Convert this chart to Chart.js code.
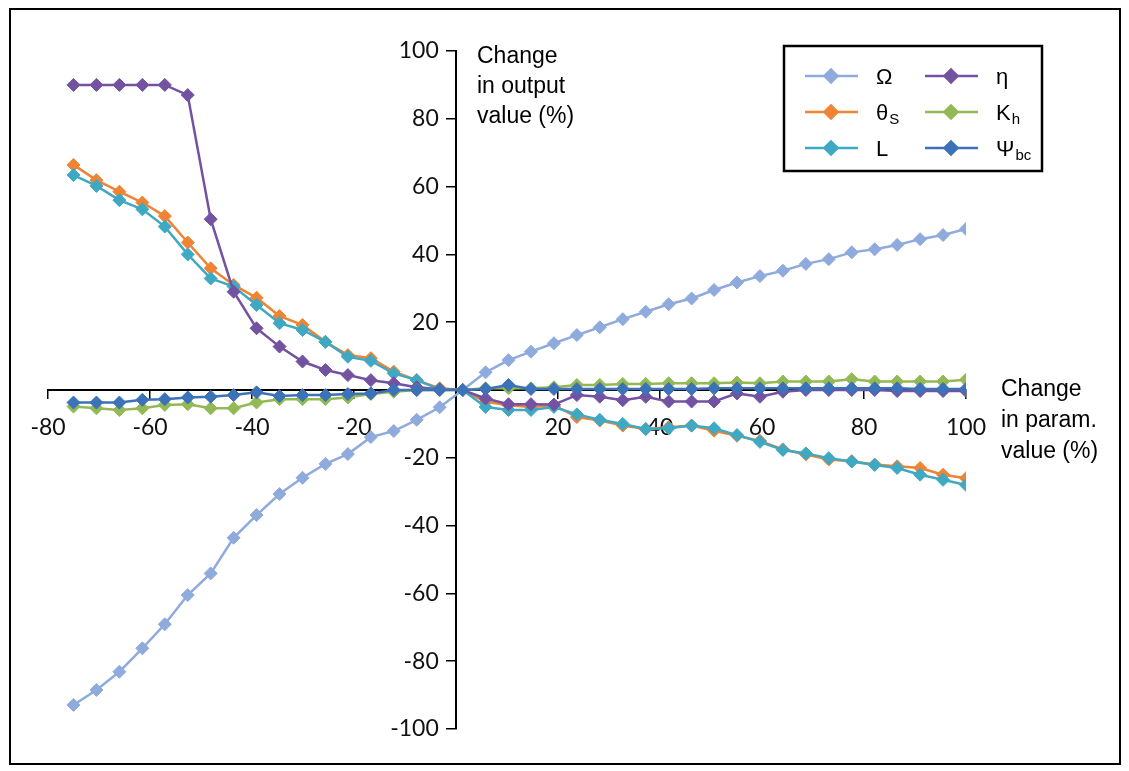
<!DOCTYPE html>
<html lang="en">

<head>
    <meta charset="UTF-8">
    <script src="https://cdn.jsdelivr.net/npm/chart.js"></script>
    <title>Sensitivity</title>
    <style>
        body { margin: 0; background: #fff; }
        .moldura {
            position: absolute;
            left: 9px; top: 8px;
            width: 1108px; height: 753px;
            border: 2px solid #000;
        }
        .grafico { position: absolute; left: 0; top: 0; width: 1129px; height: 771px; }
    </style>
</head>

<body>
    <div class="moldura"></div>
    <div class="grafico">
        <canvas id="myChart" width="1129" height="771"></canvas>
    </div>
</body>

</html>
<script>
    // change in parameter value (%)
    const paramChange = [-75, -70.5, -66.0, -61.5, -57.1, -52.6, -48.1, -43.6, -39.1, -34.6,
        -30.1, -25.6, -21.2, -16.7, -12.2, -7.7, -3.2, 1.3, 5.8, 10.3,
        14.7, 19.2, 23.7, 28.2, 32.7, 37.2, 41.7, 46.2, 50.6, 55.1,
        59.6, 64.1, 68.6, 73.1, 77.6, 82.1, 86.5, 91.0, 95.5, 100];

    // change in output value (%) for each parameter
    const omega = [-92.9, -88.5, -83.1, -76.2, -69.1, -60.5, -54.1, -43.6, -36.9, -30.7,
        -25.9, -21.8, -18.9, -13.9, -12.1, -8.8, -5.1, 0, 5.2, 8.8,
        11.3, 13.8, 16.2, 18.5, 20.9, 23.1, 25.3, 27.0, 29.5, 31.7,
        33.6, 35.2, 37.2, 38.6, 40.6, 41.5, 42.8, 44.5, 45.7, 47.5];
    const eta = [90, 90, 90, 90, 90, 87.0, 50.4, 29.0, 18.2, 12.8,
        8.4, 5.9, 4.4, 2.9, 2.0, 0.8, 0.2, 0, -2.5, -4.2,
        -4.2, -4.3, -1.5, -2.0, -3.0, -2.0, -3.4, -3.4, -3.4, -1.0,
        -2.0, -0.5, 0, 0, 0, 0, -0.3, -0.3, -0.3, -0.3];
    const thetaS = [66.4, 61.9, 58.5, 55.3, 51.3, 43.5, 35.9, 31.0, 27.2, 21.8,
        19.2, 14.2, 10.3, 9.4, 5.4, 2.9, 0.5, 0, -3.5, -4.5,
        -5.0, -4.5, -8.0, -9.0, -10.5, -11.5, -11.0, -10.5, -12.0, -13.5,
        -15.0, -17.5, -19.0, -20.5, -21.0, -22.0, -22.5, -23.0, -25.0, -26.0];
    const kH = [-4.9, -5.4, -5.9, -5.4, -4.4, -4.2, -5.4, -5.4, -3.7, -2.7,
        -2.7, -2.7, -2.2, -1.2, -0.5, 0, 0, 0, 0.5, 0.5,
        0.5, 0.8, 1.5, 1.5, 1.8, 1.8, 2.0, 2.0, 2.0, 2.2,
        2.0, 2.5, 2.5, 2.5, 3.2, 2.5, 2.5, 2.5, 2.5, 3.0];
    const lenL = [63.4, 60.2, 56.0, 53.3, 48.2, 40.0, 32.9, 30.5, 25.1, 19.7,
        17.7, 14.2, 9.8, 8.6, 4.9, 2.9, 0.2, 0, -5.0, -5.9,
        -5.9, -5.0, -7.2, -8.8, -10.0, -11.5, -11.3, -10.5, -11.3, -13.3,
        -15.3, -17.7, -18.7, -20.1, -21.1, -22.1, -23.0, -25.0, -26.5, -28.0];
    const psiBc = [-3.7, -3.7, -3.7, -2.9, -2.7, -2.2, -2.0, -1.5, -0.7, -1.8,
        -1.5, -1.5, -1.2, -1.0, 0, 0, 0, 0, 0.3, 1.5,
        0.3, 0.3, 0.3, 0.3, 0.3, 0.3, 0.3, 0.3, 0.5, 0.5,
        0.5, 0.5, 0.5, 0.5, 0.5, 0.5, 0.5, 0.3, 0.3, 0.3];

    // legend order (row by row), symbol + subscript
    const nomes = ['Ω', 'η', 'θ', 'K', 'L', 'Ψ'];
    const subscritos = ['', '', 'S', 'h', '', 'bc'];
    const series = [omega, eta, thetaS, kH, lenL, psiBc];
    const cores = ['#8FAADC', '#7352A2', '#EE8434', '#93B955', '#3FA9C4', '#3C72B8'];
    // drawing order: lower = on top
    const ordem = [5, 2, 4, 1, 3, 0];

    const xTicks = [-80, -60, -40, -20, 0, 20, 40, 60, 80, 100];
    const yTicks = [-100, -80, -60, -40, -20, 0, 20, 40, 60, 80, 100];

    function pontos(valores) {
        return valores.map((v, i) => ({ x: paramChange[i], y: v }));
    }

    const datasets = series.map((s, i) => ({
        label: nomes[i] + subscritos[i],
        data: pontos(s),
        showLine: true,
        borderColor: cores[i],
        backgroundColor: cores[i],
        borderWidth: 2.5,
        pointStyle: 'rectRot',
        pointRadius: 6.5,
        pointBorderWidth: 1,
        order: ordem[i]
    }));

    const fonteEixo = { family: 'Lato', size: 23 };

    // legend box + axis titles drawn on the canvas (subscripts need it)
    const extras = {
        id: 'extras',
        afterDraw(chart) {
            const c = chart.ctx;
            c.save();
            c.fillStyle = '#fff';
            c.fillRect(784, 46, 258, 125);
            c.strokeStyle = '#000';
            c.lineWidth = 2.5;
            c.strokeRect(784, 46, 258, 125);

            const colX = [805, 925];
            const rowY = [76, 112, 148];
            chart.data.datasets.forEach((ds, i) => {
                const x0 = colX[i % 2];
                const y0 = rowY[Math.floor(i / 2)];
                c.strokeStyle = ds.borderColor;
                c.lineWidth = 2.5;
                c.beginPath();
                c.moveTo(x0, y0);
                c.lineTo(x0 + 53, y0);
                c.stroke();
                c.fillStyle = ds.backgroundColor;
                Chart.helpers.drawPoint(c, { pointStyle: 'rectRot', radius: 6.5, borderWidth: 1 }, x0 + 26, y0);
                c.fillStyle = '#000';
                c.textBaseline = 'alphabetic';
                c.textAlign = 'left';
                c.font = '22px "Liberation Sans", Arial';
                c.fillText(nomes[i], x0 + 71, y0 + 8);
                const w = c.measureText(nomes[i]).width;
                if (subscritos[i]) {
                    c.font = '15px "Liberation Sans", Arial';
                    c.fillText(subscritos[i], x0 + 72 + w, y0 + 12);
                }
            });

            c.font = '23px "Liberation Sans", Arial';
            c.fillStyle = '#000';
            ['Change', 'in output', 'value (%)'].forEach((t, k) => c.fillText(t, 477, 63 + k * 30));
            ['Change', 'in param.', 'value (%)'].forEach((t, k) => c.fillText(t, 1001, 396 + k * 31));
            c.restore();
        }
    };

    const ctx = document.getElementById('myChart');

    const myChart = new Chart(ctx, {
        type: 'scatter',
        data: { datasets: datasets },
        options: {
            responsive: false,
            animation: false,
            layout: { padding: { left: 48, right: 163, top: 51, bottom: 42 } },
            plugins: {
                legend: { display: false },
                tooltip: { enabled: false }
            },
            scales: {
                x: {
                    type: 'linear',
                    position: { y: 0 },
                    min: -80,
                    max: 100,
                    afterBuildTicks: (axis) => { axis.ticks = xTicks.map(v => ({ value: v })); },
                    border: { display: true, color: '#000', width: 2 },
                    grid: { drawOnChartArea: false, drawTicks: true, tickLength: 8, color: '#000', lineWidth: 1.5 },
                    ticks: {
                        color: '#111',
                        font: fonteEixo,
                        padding: 16,
                        maxRotation: 0,
                        autoSkip: false,
                        callback: (v) => v === 0 ? '' : v
                    }
                },
                y: {
                    type: 'linear',
                    position: { x: 0 },
                    min: -100,
                    max: 100,
                    afterBuildTicks: (axis) => { axis.ticks = yTicks.map(v => ({ value: v })); },
                    border: { display: true, color: '#000', width: 2 },
                    grid: { drawOnChartArea: false, drawTicks: true, tickLength: 9, color: '#000', lineWidth: 1.5 },
                    ticks: {
                        color: '#111',
                        font: fonteEixo,
                        autoSkip: false,
                        // labels are right-aligned on the axis line, the em space pushes them clear of it
                        callback: (v) => v === 0 ? '' : v + '\u2003'
                    }
                }
            }
        },
        plugins: [extras]
    });
</script>
